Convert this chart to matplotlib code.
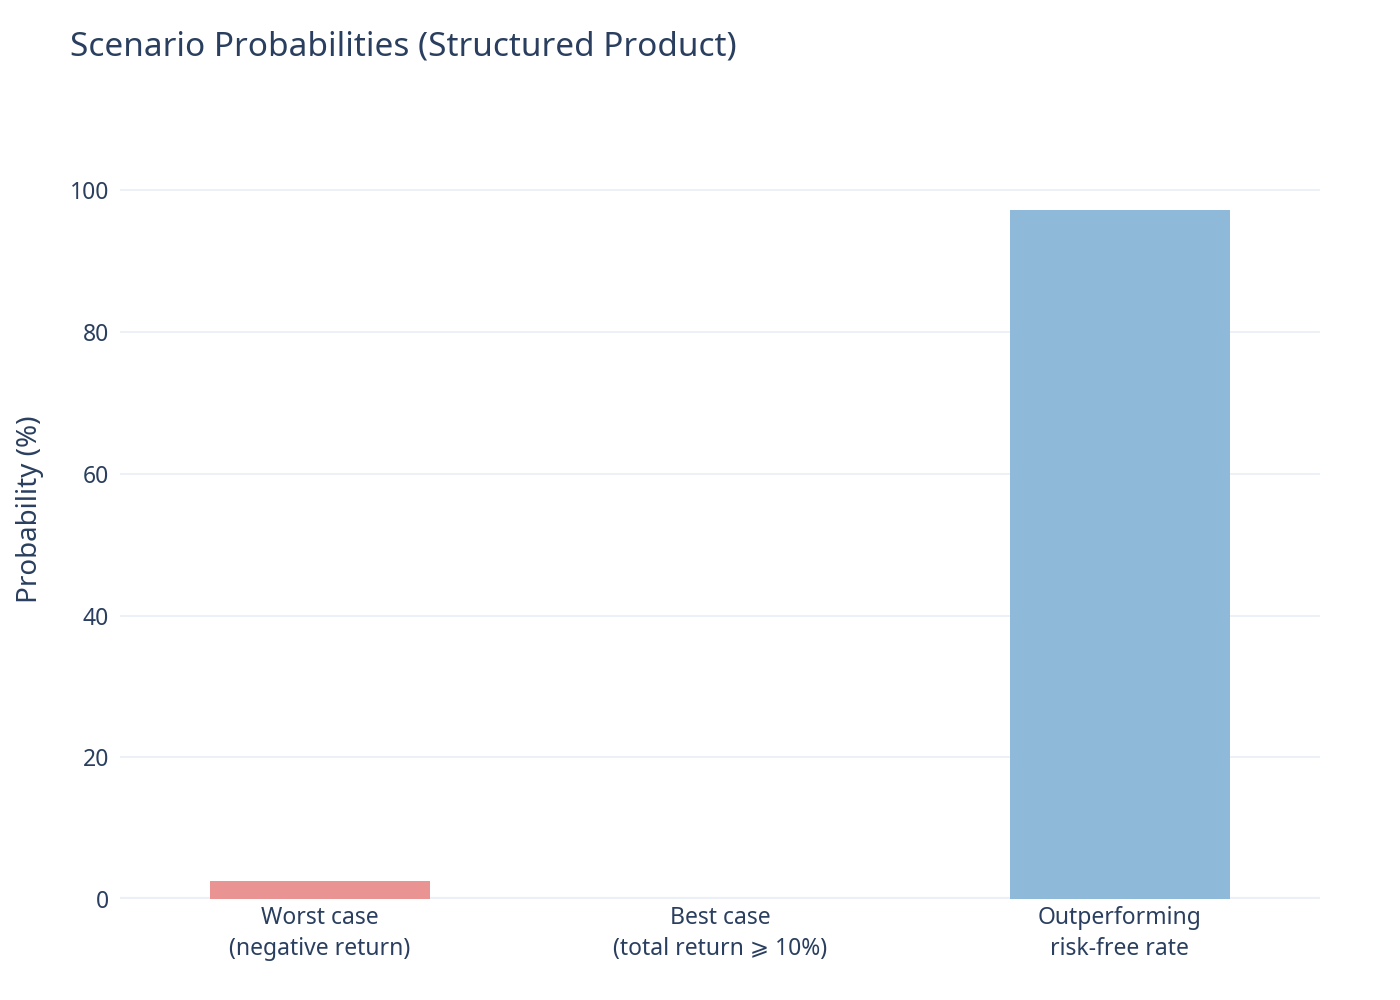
import matplotlib.pyplot as plt

plt.rcParams['font.family'] = ['Noto Sans', 'DejaVu Sans']

categories = ['Worst case\n(negative return)', 'Best case\n(total return \u2a7e 10%)', 'Outperforming\nrisk-free rate']
probabilities = [2.5, 0.0, 97.2]
bar_colors = ['#e99493', '#8fb9d9', '#8fb9d9']
yticks = [0, 20, 40, 60, 80, 100]

text_color = '#2a3f5f'
grid_color = '#ebf0f8'

fig = plt.figure(figsize=(14, 10), dpi=100)
ax = fig.add_axes([0.0857, 0.101, 0.857, 0.725])

x = range(len(categories))
ax.bar(x, probabilities, width=0.55, color=bar_colors, zorder=3)

ax.set_xlim(-0.5, len(categories) - 0.5)
ax.set_ylim(0, 102.3)
ax.set_yticks(yticks)
ax.set_xticks(list(x))
ax.set_xticklabels(categories, fontsize=16.5, color=text_color, linespacing=1.4)
ax.tick_params(axis='y', labelsize=16.5, colors=text_color, length=0, pad=8)
ax.tick_params(axis='x', length=0, pad=5)

ax.grid(axis='y', color=grid_color, linewidth=1.3, zorder=0)
ax.axhline(0, color=grid_color, linewidth=3, zorder=2)
for s in ax.spines.values():
    s.set_visible(False)

# y title placed like plotly's (slightly above the axis middle)
fig.text(0.0215, 0.491, 'Probability (%)', fontsize=20, color=text_color,
         rotation=90, ha='center', va='center')
fig.text(0.05, 0.953, 'Scenario Probabilities (Structured Product)', fontsize=24,
         color=text_color, va='center', ha='left')

fig.savefig('out.png', dpi=100, facecolor='white')
